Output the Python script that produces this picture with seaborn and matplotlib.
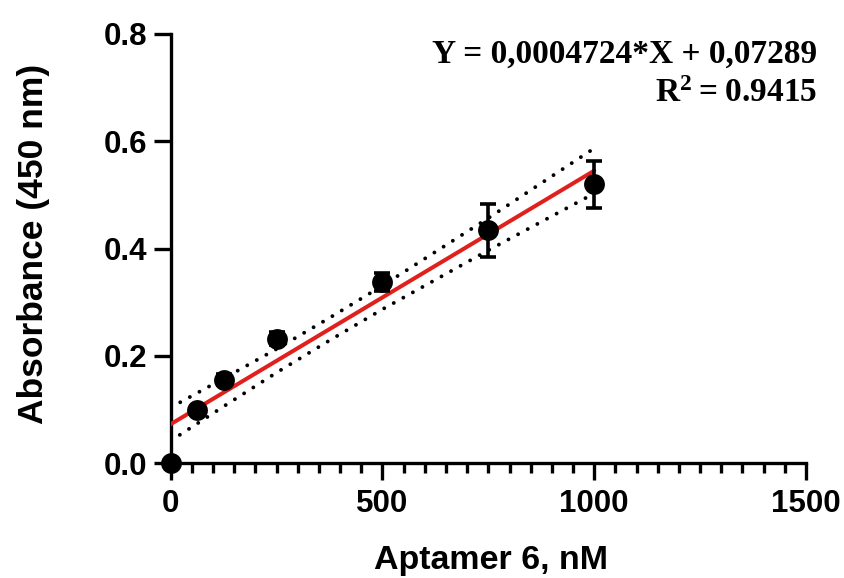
import matplotlib
matplotlib.use('Agg')
import matplotlib.pyplot as plt
from matplotlib.ticker import MultipleLocator
import pandas as pd
import seaborn as sns

# mean absorbance at each aptamer concentration
conc = [0, 62.5, 125, 250, 500, 750, 1000]
absorb = [0.0, 0.099, 0.156, 0.232, 0.338, 0.434, 0.520]
absorb_err = [0.004, 0.008, 0.010, 0.012, 0.017, 0.050, 0.0435]

# linear fit, from the equation printed on the chart
slope = 0.0004724
intercept = 0.07289
fit_x = [0, 1000]

# 95% confidence band of the fit
band_x = [0, 125, 250, 375, 500, 750, 1000]
band_upper = [0.104, 0.158, 0.213, 0.271, 0.331, 0.457, 0.587]
band_lower = [0.042, 0.106, 0.169, 0.229, 0.287, 0.397, 0.503]

eq_text = 'Y = 0,0004724*X + 0,07289'
r2_text = r'$\mathbf{R^{2} = 0.9415}$'

sns.set_style('ticks')
plt.rcParams['font.family'] = ['Liberation Sans', 'DejaVu Sans']
plt.rcParams['font.weight'] = 'bold'
plt.rcParams['text.color'] = 'black'
plt.rcParams['axes.labelcolor'] = 'black'
plt.rcParams['mathtext.fontset'] = 'custom'
plt.rcParams['mathtext.bf'] = 'Liberation Serif:bold'
plt.rcParams['mathtext.rm'] = 'Liberation Serif:bold'

points = pd.DataFrame({'conc': conc, 'absorb': absorb, 'err': absorb_err})
fit = pd.DataFrame({'x': fit_x, 'y': [intercept + slope * v for v in fit_x]})
band = pd.DataFrame({'x': band_x, 'upper': band_upper, 'lower': band_lower})

fig = plt.figure(figsize=(8.44, 5.78), dpi=100)
ax = fig.add_axes([0.2022, 0.1984, 0.9550 - 0.2022, 0.9412 - 0.1984])

## dotted confidence band
for col in ['upper', 'lower']:
    sns.lineplot(x='x', y=col, data=band, ax=ax, color='black', lw=2.8,
                 linestyle=(0, (0.01, 2.8)), dash_capstyle='round', zorder=2)

## red regression line
sns.lineplot(x='x', y='y', data=fit, ax=ax, color='#e0201c', lw=2.9, zorder=3)

# error bars and markers
ax.errorbar(points['conc'], points['absorb'], yerr=points['err'], fmt='none',
            ecolor='black', elinewidth=2.6, capsize=6, capthick=2.6, zorder=4)
sns.scatterplot(x='conc', y='absorb', data=points, ax=ax, color='black', s=225,
                edgecolor='black', linewidth=0, zorder=5, clip_on=False)

ax.set_xlim(0, 1500)
ax.set_ylim(0, 0.8)
ax.set_xticks([0, 500, 1000, 1500])
ax.set_yticks([0.0, 0.2, 0.4, 0.6, 0.8])
ax.set_yticklabels(['0.0', '0.2', '0.4', '0.6', '0.8'])
ax.xaxis.set_minor_locator(MultipleLocator(50))

sns.despine(ax=ax)
for side in ['left', 'bottom']:
    ax.spines[side].set_linewidth(2.4)
    ax.spines[side].set_color('black')
ax.tick_params(axis='both', which='major', length=12.5, width=2.4, direction='out',
               labelsize=22.5, colors='black')
ax.tick_params(axis='x', which='major', pad=6)
ax.tick_params(axis='y', which='major', pad=4)
ax.tick_params(axis='x', which='minor', length=7.5, width=2.4, direction='out', colors='black')
for lbl in ax.get_xticklabels() + ax.get_yticklabels():
    lbl.set_fontweight('bold')

ax.set_xlabel('Aptamer 6, nM', fontsize=24.5, fontweight='bold')
ax.set_ylabel('Absorbance (450 nm)', fontsize=25.5, fontweight='bold')
ax.xaxis.set_label_coords(0.504, -0.19)
ax.yaxis.set_label_coords(-0.19, 0.51)

# fit equation, serif like the original
fig.text(817 / 844, 1 - 63 / 578, eq_text, ha='right', va='baseline', fontsize=24,
         fontweight='bold', family=['Liberation Serif', 'DejaVu Serif'])
fig.text(817 / 844, 1 - 102 / 578, r2_text, ha='right', va='baseline', fontsize=24,
         fontweight='bold', family=['Liberation Serif', 'DejaVu Serif'])

fig.savefig('out.png', dpi=100)
